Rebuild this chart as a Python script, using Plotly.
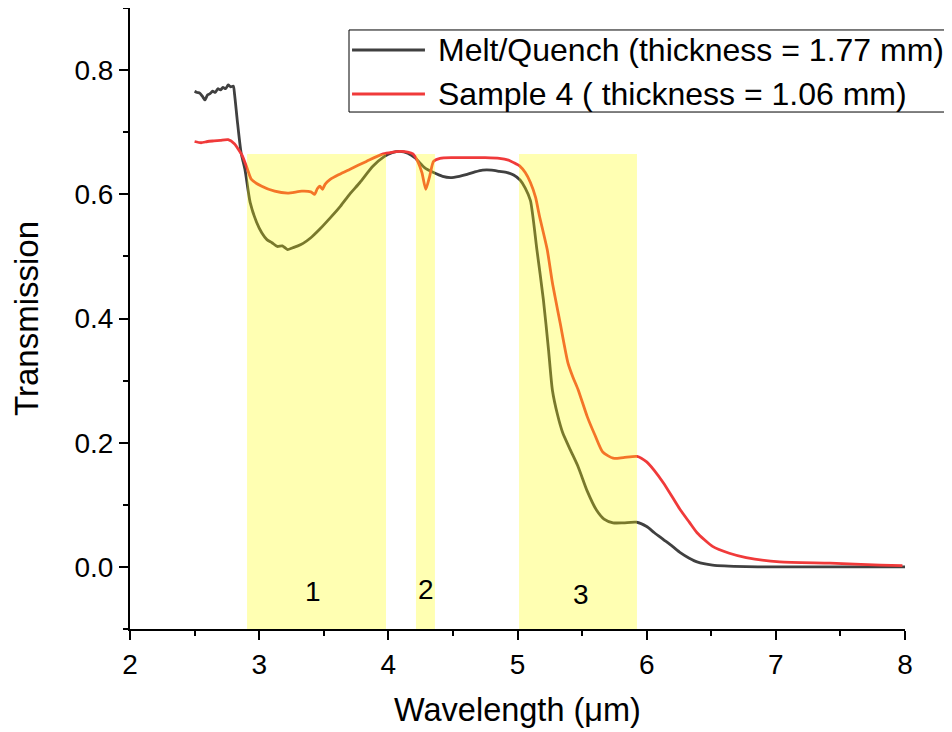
import plotly.graph_objects as go

# Melt/Quench (thickness = 1.77 mm)
melt_x = [2.50, 2.52, 2.54, 2.56, 2.58, 2.60, 2.62, 2.64, 2.66, 2.68, 2.70, 2.72, 2.74, 2.76, 2.78, 2.80,
          2.81, 2.83, 2.86, 2.89, 2.93, 2.98, 3.02, 3.06, 3.10, 3.14, 3.18, 3.22, 3.26, 3.30, 3.34,
          3.40, 3.47, 3.55, 3.63, 3.70, 3.78, 3.88, 3.97,
          4.03, 4.09, 4.15, 4.21, 4.28, 4.35, 4.42, 4.48, 4.55, 4.61, 4.67, 4.73, 4.80, 4.86, 4.92,
          4.97, 5.02, 5.06, 5.10, 5.15, 5.20, 5.24, 5.27, 5.31, 5.35, 5.41, 5.47, 5.54, 5.61, 5.67,
          5.74, 5.82, 5.92, 6.00, 6.06, 6.13, 6.20, 6.26, 6.33, 6.39, 6.51, 6.77, 7.00, 7.50, 8.00]
melt_y = [0.766, 0.764, 0.763, 0.758, 0.752, 0.760, 0.762, 0.766, 0.764, 0.770, 0.768, 0.772, 0.770, 0.776, 0.773, 0.774,
          0.760, 0.720, 0.667, 0.640, 0.587, 0.555, 0.538, 0.527, 0.522, 0.516, 0.517, 0.511, 0.514, 0.517, 0.521,
          0.530, 0.544, 0.562, 0.581, 0.600, 0.619, 0.645, 0.661,
          0.667, 0.669, 0.666, 0.658, 0.643, 0.635, 0.629, 0.627, 0.629, 0.632, 0.636, 0.639, 0.639, 0.637, 0.635,
          0.631, 0.623, 0.610, 0.590, 0.511, 0.431, 0.350, 0.285, 0.245, 0.216, 0.188, 0.161, 0.122, 0.092, 0.077,
          0.071, 0.071, 0.072, 0.065, 0.055, 0.044, 0.033, 0.023, 0.014, 0.008, 0.003, 0.0005, 0.0, 0.0, 0.0]

# Sample 4 (thickness = 1.06 mm)
s4_x = [2.50, 2.55, 2.60, 2.65, 2.70, 2.76, 2.81, 2.84, 2.87, 2.91, 2.94, 3.02, 3.12, 3.22, 3.33,
        3.40, 3.43, 3.45, 3.47, 3.49, 3.51, 3.55, 3.62, 3.70, 3.83, 3.96, 4.09, 4.15, 4.19, 4.23,
        4.26, 4.29, 4.32, 4.35, 4.40, 4.50, 4.61, 4.75, 4.86, 4.93, 4.97, 5.02, 5.06, 5.10, 5.14,
        5.17, 5.23, 5.27, 5.33, 5.39, 5.43, 5.47, 5.54, 5.60, 5.66, 5.74, 5.82, 5.925, 6.00, 6.06,
        6.13, 6.20, 6.26, 6.33, 6.39, 6.51, 6.64, 6.77, 7.03, 7.42, 7.81, 7.98]
s4_y = [0.685, 0.683, 0.685, 0.686, 0.687, 0.688, 0.681, 0.672, 0.662, 0.640, 0.624, 0.613, 0.605, 0.602, 0.605,
        0.604, 0.600, 0.609, 0.613, 0.608, 0.616, 0.624, 0.632, 0.640, 0.653, 0.665, 0.669, 0.668, 0.665, 0.652,
        0.635, 0.608, 0.629, 0.653, 0.658, 0.659, 0.659, 0.659, 0.658, 0.655, 0.651, 0.645, 0.635, 0.619, 0.595,
        0.565, 0.511, 0.458, 0.393, 0.329, 0.305, 0.285, 0.242, 0.212, 0.185, 0.175, 0.176, 0.178, 0.169, 0.155,
        0.135, 0.112, 0.092, 0.072, 0.055, 0.033, 0.022, 0.015, 0.008, 0.006, 0.003, 0.002]

series_names = ["Melt/Quench (thickness = 1.77 mm)", "Sample 4 ( thickness = 1.06 mm)"]
series_colors = ["#404040", "#F03A3A"]

# Highlighted bands (x0, x1, label)
band_x0 = [2.906, 4.214, 5.012]
band_x1 = [3.982, 4.361, 5.925]
band_top = 0.665
band_labels = ["1", "2", "3"]
label_x = [3.417, 4.29, 5.49]
label_y = [-0.040, -0.037, -0.044]

FONT = "Liberation Sans, Arial, sans-serif"

fig = go.Figure()
for xs, ys, nm, col in zip([melt_x, s4_x], [melt_y, s4_y], series_names, series_colors):
    fig.add_trace(go.Scatter(x=xs, y=ys, mode="lines", name=nm, showlegend=False,
                             line=dict(color=col, width=2.8, shape="spline", smoothing=0.6)))

for x0, x1 in zip(band_x0, band_x1):
    fig.add_shape(type="rect", xref="x", yref="y", x0=x0, x1=x1, y0=-0.1, y1=band_top,
                  fillcolor="#FFFF00", opacity=0.3, line=dict(width=0), layer="above")

for lx, ly, t in zip(label_x, label_y, band_labels):
    fig.add_annotation(x=lx, y=ly, text=t, showarrow=False, xref="x", yref="y",
                       font=dict(family=FONT, size=28, color="black"))

# Legend box (drawn in paper coordinates)
fig.add_shape(type="rect", xref="paper", yref="paper", x0=0.2826, x1=1.0542, y0=0.8325, y1=0.9646,
              line=dict(color="black", width=1), fillcolor="white", layer="above")
leg_rows = [0.9324, 0.8615]
for ry, nm, col in zip(leg_rows, series_names, series_colors):
    fig.add_shape(type="line", xref="paper", yref="paper", x0=0.2865, x1=0.3806, y0=ry, y1=ry,
                  line=dict(color=col, width=2.8), layer="above")
    fig.add_annotation(x=0.3948, y=ry, xref="paper", yref="paper", text=nm, showarrow=False,
                       xanchor="left", yanchor="middle",
                       font=dict(family=FONT, size=32, color="black"))

fig.update_layout(
    width=944, height=724,
    margin=dict(l=122, r=47, t=0, b=103),
    plot_bgcolor="white", paper_bgcolor="white",
    font=dict(family=FONT, color="black"),
    showlegend=False,
)
fig.update_xaxes(range=[2, 8], dtick=1, tick0=2, showline=True, linecolor="black", linewidth=2,
                 ticks="outside", ticklen=9, tickwidth=2, tickcolor="black", automargin=False,
                 minor=dict(dtick=0.5, ticks="outside", ticklen=5, tickwidth=2, tickcolor="black"),
                 showgrid=False, zeroline=False,
                 tickfont=dict(family=FONT, size=28, color="black"),
                 title=dict(text="Wavelength (μm)", font=dict(family=FONT, size=32.5, color="black"), standoff=20))
fig.update_yaxes(range=[-0.1, 0.9], dtick=0.2, tick0=0, tickformat=".1f", showline=True, linecolor="black",
                 linewidth=2, ticks="outside", ticklen=9, tickwidth=2, tickcolor="black", automargin=False,
                 minor=dict(dtick=0.1, ticks="outside", ticklen=5, tickwidth=2, tickcolor="black"),
                 showgrid=False, zeroline=False,
                 tickfont=dict(family=FONT, size=28, color="black"),
                 title=dict(text="Transmission", font=dict(family=FONT, size=33, color="black"), standoff=28))

fig.write_html("out.html")
